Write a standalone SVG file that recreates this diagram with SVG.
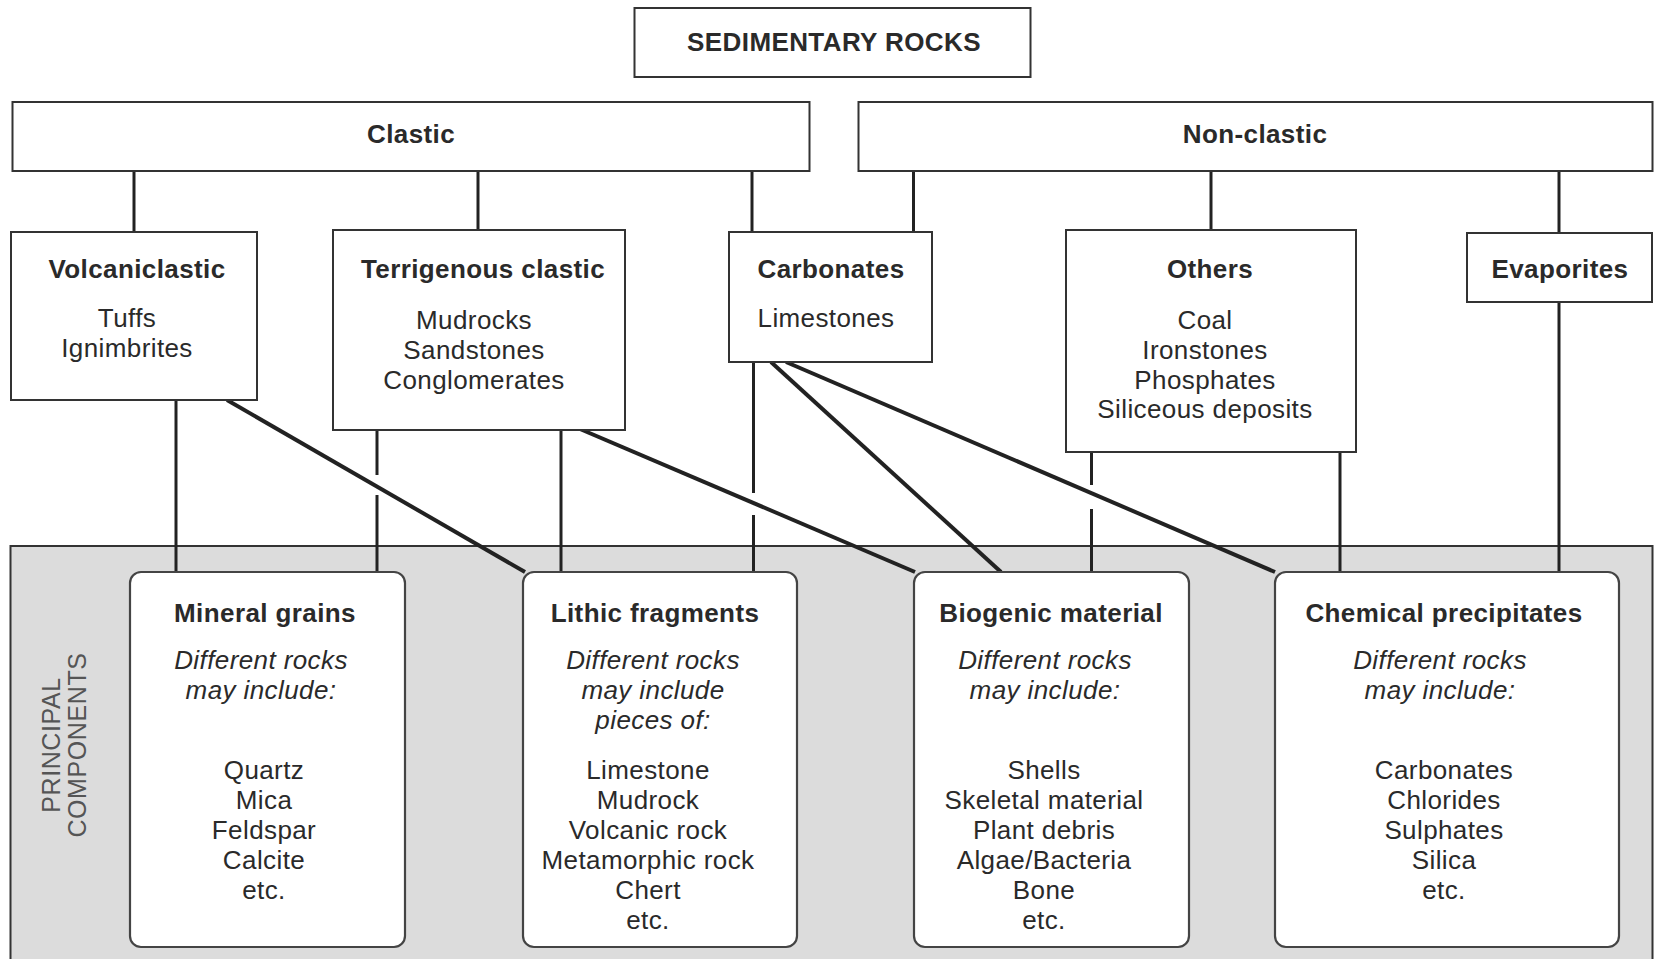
<svg xmlns="http://www.w3.org/2000/svg" width="1654" height="959" viewBox="0 0 1654 959">
<style>
.box{fill:#fff;stroke:#333;stroke-width:2}
.rbox{fill:#fff;stroke:#444;stroke-width:2.2}
.t{font-family:"Liberation Sans",Arial,sans-serif;font-size:26px;fill:#2a2a2a;text-anchor:middle;letter-spacing:0.4px}
.b{font-weight:bold}
.i{font-style:italic}
.v{stroke:#222;stroke-width:3;fill:none}
.d{stroke:#222;stroke-width:4;fill:none}
.pc{font-family:"Liberation Sans",Arial,sans-serif;font-size:25px;fill:#555;text-anchor:middle;letter-spacing:0.6px}
</style>
<rect width="1654" height="959" fill="#fff"/>
<g id="panel">
<rect x="10.5" y="546" width="1642" height="430" fill="#dcdcdc" stroke="#333" stroke-width="2"/>
<text class="pc" transform="translate(60,745) rotate(-90)">PRINCIPAL</text>
<text class="pc" transform="translate(86,745) rotate(-90)">COMPONENTS</text>
</g>
<g id="connectors">
<line class="v" x1="134" y1="171" x2="134" y2="232"/>
<line class="v" x1="478" y1="171" x2="478" y2="230"/>
<line class="v" x1="752" y1="171" x2="752" y2="232"/>
<line class="v" x1="913.5" y1="171" x2="913.5" y2="232"/>
<line class="v" x1="1211" y1="171" x2="1211" y2="230"/>
<line class="v" x1="1559" y1="171" x2="1559" y2="233"/>
<line class="v" x1="176" y1="400" x2="176" y2="572"/>
<line class="v" x1="377" y1="430" x2="377" y2="475"/>
<line class="v" x1="377" y1="495" x2="377" y2="572"/>
<line class="v" x1="561" y1="430" x2="561" y2="572"/>
<line class="v" x1="753.5" y1="362" x2="753.5" y2="493"/>
<line class="v" x1="753.5" y1="515" x2="753.5" y2="572"/>
<line class="v" x1="1091.5" y1="452" x2="1091.5" y2="485"/>
<line class="v" x1="1091.5" y1="509" x2="1091.5" y2="572"/>
<line class="v" x1="1340" y1="452" x2="1340" y2="572"/>
<line class="v" x1="1559" y1="302" x2="1559" y2="572"/>
<line class="d" x1="227" y1="400" x2="525" y2="572"/>
<line class="d" x1="580" y1="429" x2="915" y2="572"/>
<line class="d" x1="771" y1="362" x2="1001" y2="572"/>
<line class="d" x1="786" y1="362" x2="1275" y2="572"/>
</g>
<g id="sedimentary-rocks">
<rect class="box" x="634.5" y="8" width="396" height="69"/>
<text class="t b" x="834" y="51">SEDIMENTARY ROCKS</text>
</g>
<g id="clastic">
<rect class="box" x="12.5" y="102" width="797" height="69"/>
<text class="t b" x="411" y="143">Clastic</text>
</g>
<g id="non-clastic">
<rect class="box" x="858.5" y="102" width="794" height="69"/>
<text class="t b" x="1255" y="143">Non-clastic</text>
</g>
<g id="volcaniclastic">
<rect class="box" x="11" y="232" width="246" height="168"/>
<text class="t b" x="137" y="278">Volcaniclastic</text>
<text class="t" x="127" y="327">Tuffs</text>
<text class="t" x="127" y="357">Ignimbrites</text>
</g>
<g id="terrigenous-clastic">
<rect class="box" x="333" y="230" width="292" height="200"/>
<text class="t b" x="483" y="278">Terrigenous clastic</text>
<text class="t" x="474" y="329">Mudrocks</text>
<text class="t" x="474" y="359">Sandstones</text>
<text class="t" x="474" y="389">Conglomerates</text>
</g>
<g id="carbonates">
<rect class="box" x="729" y="232" width="203" height="130"/>
<text class="t b" x="831" y="278">Carbonates</text>
<text class="t" x="826" y="327">Limestones</text>
</g>
<g id="others">
<rect class="box" x="1066" y="230" width="290" height="222"/>
<text class="t b" x="1210" y="278">Others</text>
<text class="t" x="1205" y="329">Coal</text>
<text class="t" x="1205" y="359">Ironstones</text>
<text class="t" x="1205" y="389">Phosphates</text>
<text class="t" x="1205" y="418">Siliceous deposits</text>
</g>
<g id="evaporites">
<rect class="box" x="1467" y="233" width="185" height="69"/>
<text class="t b" x="1560" y="278">Evaporites</text>
</g>
<g id="mineral-grains">
<rect class="rbox" x="130" y="572" width="275" height="375" rx="11"/>
<text class="t b" x="265" y="622">Mineral grains</text>
<text class="t i" x="261" y="669">Different rocks</text>
<text class="t i" x="261" y="699">may include:</text>
<text class="t" x="264" y="779">Quartz</text>
<text class="t" x="264" y="809">Mica</text>
<text class="t" x="264" y="839">Feldspar</text>
<text class="t" x="264" y="869">Calcite</text>
<text class="t" x="264" y="899">etc.</text>
</g>
<g id="lithic-fragments">
<rect class="rbox" x="523" y="572" width="274" height="375" rx="11"/>
<text class="t b" x="655" y="622">Lithic fragments</text>
<text class="t i" x="653" y="669">Different rocks</text>
<text class="t i" x="653" y="699">may include</text>
<text class="t i" x="653" y="729">pieces of:</text>
<text class="t" x="648" y="779">Limestone</text>
<text class="t" x="648" y="809">Mudrock</text>
<text class="t" x="648" y="839">Volcanic rock</text>
<text class="t" x="648" y="869">Metamorphic rock</text>
<text class="t" x="648" y="899">Chert</text>
<text class="t" x="648" y="929">etc.</text>
</g>
<g id="biogenic-material">
<rect class="rbox" x="914" y="572" width="275" height="375" rx="11"/>
<text class="t b" x="1051" y="622">Biogenic material</text>
<text class="t i" x="1045" y="669">Different rocks</text>
<text class="t i" x="1045" y="699">may include:</text>
<text class="t" x="1044" y="779">Shells</text>
<text class="t" x="1044" y="809">Skeletal material</text>
<text class="t" x="1044" y="839">Plant debris</text>
<text class="t" x="1044" y="869">Algae/Bacteria</text>
<text class="t" x="1044" y="899">Bone</text>
<text class="t" x="1044" y="929">etc.</text>
</g>
<g id="chemical-precipitates">
<rect class="rbox" x="1275" y="572" width="344" height="375" rx="11"/>
<text class="t b" x="1444" y="622">Chemical precipitates</text>
<text class="t i" x="1440" y="669">Different rocks</text>
<text class="t i" x="1440" y="699">may include:</text>
<text class="t" x="1444" y="779">Carbonates</text>
<text class="t" x="1444" y="809">Chlorides</text>
<text class="t" x="1444" y="839">Sulphates</text>
<text class="t" x="1444" y="869">Silica</text>
<text class="t" x="1444" y="899">etc.</text>
</g>
</svg>
